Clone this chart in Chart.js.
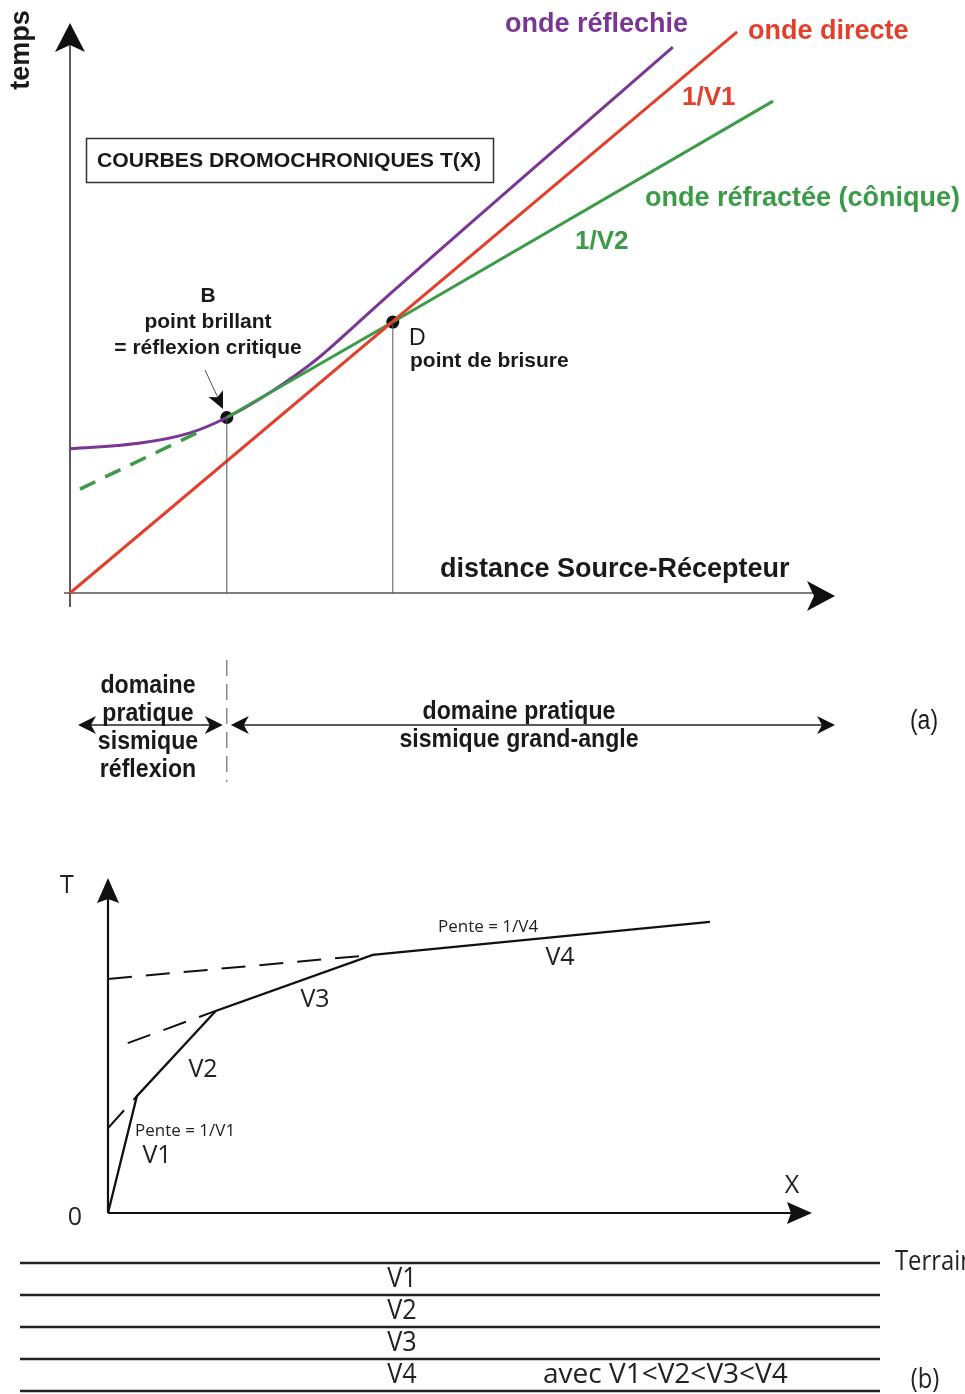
<!DOCTYPE html>
<html>
<head>
<meta charset="utf-8">
<script src="https://cdn.jsdelivr.net/npm/chart.js@4.4.1/dist/chart.umd.min.js"></script>
<style>
  body { margin: 0; background: #fff; }
  .wrap { position: relative; width: 965px; height: 1394px; overflow: hidden; }
  canvas { position: absolute; left: 0; }
</style>
</head>
<body>
<div class="wrap">
  <canvas id="chartA" width="965" height="800" style="top:0"></canvas>
  <canvas id="chartB" width="965" height="440" style="top:800px"></canvas>
  <canvas id="chartC" width="965" height="154" style="top:1240px"></canvas>
</div>
<script>
// (a) courbes dromochroniques - distance / temps (unités arbitraires)
const directX = [0, 8.72];
const directT = [0, 9.88];
const refractX = [2.05, 4.22, 9.19];
const refractT = [3.09, 4.77, 8.66];
const refractExtX = [0.13, 1.74];
const refractExtT = [1.83, 2.87];
const reflectX = [0, 0.92, 1.57, 2.05, 2.65, 3.23, 3.75, 4.22, 7.88];
const reflectT = [2.54, 2.64, 2.82, 3.09, 3.56, 4.12, 4.74, 5.31, 9.61];
const markX = [2.05, 4.22];   // B, D
const markT = [3.09, 4.77];

// (b) dromochronique multicouche
const travelX = [0, 0.41, 1.53, 3.76, 8.55];
const travelT = [0, 3.51, 6.07, 7.75, 8.74];
const ext2X = [0, 0.41], ext2T = [2.55, 3.51];
const ext3X = [0.28, 1.53], ext3T = [5.10, 6.07];
const ext4X = [0, 3.76], ext4T = [7.03, 7.75];

// coupe des terrains
const layerDepth = [0, 1, 2, 3, 4];
const layerNames = ['V1', 'V2', 'V3', 'V4'];

const PURPLE = '#7b3594', RED = '#e2402c', GREEN = '#3c9b48';
const BOLD = 'bold {s}px "Liberation Sans", Arial, sans-serif';
const REG = '{s}px "Liberation Sans", Arial, sans-serif';
const MYRIAD = '{s}px "Open Sans", "DejaVu Sans", sans-serif';

function pts(xs, ys) { return xs.map((x, i) => ({ x: x, y: ys[i] })); }
function f(tpl, s) { return tpl.replace('{s}', s); }

function head(ctx, x, y, ang, len, half, notch) {
  ctx.save();
  ctx.translate(x, y);
  ctx.rotate(ang);
  ctx.beginPath();
  ctx.moveTo(0, 0);
  ctx.lineTo(-len, -half);
  ctx.lineTo(-len + notch, 0);
  ctx.lineTo(-len, half);
  ctx.closePath();
  ctx.fill();
  ctx.restore();
}

// text, optionally squeezed horizontally (sx) to mimic a condensed face
function txt(ctx, s, x, y, font, color, align, sx) {
  ctx.save();
  ctx.translate(x, y);
  ctx.scale(sx || 1, 1);
  ctx.font = font;
  ctx.fillStyle = color || '#1a1a1a';
  ctx.textAlign = align || 'left';
  ctx.textBaseline = 'middle';
  ctx.fillText(s, 0, 0);
  ctx.restore();
}

function line(ctx, x1, y1, x2, y2, w, color, dash) {
  ctx.save();
  ctx.strokeStyle = color;
  ctx.lineWidth = w;
  ctx.setLineDash(dash || []);
  ctx.beginPath();
  ctx.moveTo(x1, y1);
  ctx.lineTo(x2, y2);
  ctx.stroke();
  ctx.restore();
}

function lineSet(data, color, width, extra) {
  return Object.assign({
    data: data, borderColor: color, borderWidth: width,
    pointRadius: 0, showLine: true, fill: false, tension: 0
  }, extra || {});
}

const baseOpts = (pad, xmax, ymin, ymax, rev) => ({
  responsive: false,
  animation: false,
  clip: false,
  layout: { padding: pad },
  plugins: { legend: { display: false }, tooltip: { enabled: false } },
  scales: {
    x: { type: 'linear', min: 0, max: xmax, display: false },
    y: { type: 'linear', min: ymin, max: ymax, reverse: !!rev, display: false }
  }
});

// ---------- chart (a) ----------
const decoA = {
  id: 'decoA',
  beforeDatasetsDraw(chart) {
    const ctx = chart.ctx, a = chart.chartArea;
    const x0 = chart.scales.x.getPixelForValue(0), y0 = chart.scales.y.getPixelForValue(0);
    ctx.fillStyle = '#111';
    line(ctx, x0, y0 + 14, x0, a.top + 12, 1.6, '#333');
    head(ctx, x0, a.top - 2, -Math.PI / 2, 29, 15, 7);
    line(ctx, x0 - 6, y0, a.right - 14, y0, 1.6, '#555');
    head(ctx, a.right, y0 + 3, 0, 28, 15, 7);
  },
  afterDraw(chart) {
    const ctx = chart.ctx;
    const bx = chart.scales.x.getPixelForValue(markX[0]);

    ctx.save();
    ctx.translate(22, 50);
    ctx.rotate(-Math.PI / 2);
    txt(ctx, 'temps', 0, 0, f(BOLD, 27), '#1a1a1a', 'center');
    ctx.restore();

    ctx.strokeStyle = '#333';
    ctx.lineWidth = 1.5;
    ctx.strokeRect(86.5, 138.5, 407, 44);
    txt(ctx, 'COURBES DROMOCHRONIQUES T(X)', 97, 161, f(BOLD, 21), '#1a1a1a', 'left', 1.01);

    txt(ctx, 'onde réflechie', 505, 25, f(BOLD, 27), PURPLE);
    txt(ctx, 'onde directe', 748, 32, f(BOLD, 27), RED);
    txt(ctx, '1/V1', 682, 98, f(BOLD, 26), RED);
    txt(ctx, 'onde réfractée (cônique)', 645, 199, f(BOLD, 27), GREEN);
    txt(ctx, '1/V2', 575, 242, f(BOLD, 26), GREEN);

    txt(ctx, 'B', 208, 296, f(BOLD, 21), '#1a1a1a', 'center');
    txt(ctx, 'point brillant', 208, 322, f(BOLD, 21), '#1a1a1a', 'center');
    txt(ctx, '= réflexion critique', 208, 348, f(BOLD, 21), '#1a1a1a', 'center');
    line(ctx, 205, 370, 219, 400, 1, '#555');
    ctx.fillStyle = '#111';
    head(ctx, 223, 409, Math.atan2(38, 18), 17, 8, 4);

    txt(ctx, 'D', 409, 339, f(REG, 23));
    txt(ctx, 'point de brisure', 410, 361, f(BOLD, 21));
    txt(ctx, 'distance Source-Récepteur', 440, 570, f(BOLD, 27));

    // domaines
    line(ctx, bx, 660, bx, 782, 1, '#555', [16, 8]);
    const ay = 725;
    line(ctx, 84, ay, bx - 8, ay, 1.3, '#222');
    line(ctx, bx + 8, ay, 830, ay, 1.3, '#222');
    ctx.fillStyle = '#111';
    head(ctx, 78, ay, Math.PI, 18, 9, 5);
    head(ctx, bx - 4, ay, 0, 18, 9, 5);
    head(ctx, bx + 4, ay, Math.PI, 18, 9, 5);
    head(ctx, 835, ay, 0, 18, 9, 5);

    const nb = f(BOLD, 26);
    ['domaine', 'pratique', 'sismique', 'réflexion'].forEach((s, i) => {
      txt(ctx, s, 148, 686 + i * 28, nb, '#1a1a1a', 'center', 0.89);
    });
    txt(ctx, 'domaine pratique', 519, 712, nb, '#1a1a1a', 'center', 0.89);
    txt(ctx, 'sismique grand-angle', 519, 740, nb, '#1a1a1a', 'center', 0.89);
    txt(ctx, '(a)', 924, 722, f(REG, 27), '#1a1a1a', 'center', 0.85);
  }
};

new Chart(document.getElementById('chartA'), {
  type: 'scatter',
  data: {
    datasets: [
      lineSet([{ x: markX[0], y: 0 }, { x: markX[0], y: markT[0] }], '#555', 1),
      lineSet([{ x: markX[1], y: 0 }, { x: markX[1], y: markT[1] }], '#555', 1),
      lineSet(pts(refractExtX, refractExtT), GREEN, 3.5, { borderDash: [17, 11] }),
      lineSet(pts(directX, directT), RED, 3),
      lineSet(pts(refractX, refractT), GREEN, 3),
      lineSet(pts(reflectX, reflectT), PURPLE, 3, { cubicInterpolationMode: 'monotone' }),
      { data: pts(markX, markT), pointRadius: 6.5, pointBackgroundColor: '#111', pointBorderWidth: 0, showLine: false }
    ]
  },
  options: baseOpts({ left: 70, right: 130, top: 25, bottom: 207 }, 10, 0, 10),
  plugins: [decoA]
});

// ---------- chart (b) ----------
const decoB = {
  id: 'decoB',
  beforeDatasetsDraw(chart) {
    const ctx = chart.ctx, a = chart.chartArea;
    const x0 = chart.scales.x.getPixelForValue(0), y0 = chart.scales.y.getPixelForValue(0);
    ctx.fillStyle = '#111';
    line(ctx, x0, y0, x0, a.top + 10, 2.2, '#111');
    head(ctx, x0, a.top - 2, -Math.PI / 2, 25, 11, 4);
    line(ctx, x0, y0, a.right - 10, y0, 2.2, '#111');
    head(ctx, a.right, y0, 0, 25, 11, 4);
  },
  afterDraw(chart) {
    const ctx = chart.ctx;
    const m = f(MYRIAD, 25), s = f(MYRIAD, 17);
    txt(ctx, 'T', 67, 86, m, '#222', 'center');
    txt(ctx, '0', 75, 418, m, '#222', 'center');
    txt(ctx, 'X', 792, 386, m, '#222', 'center');
    txt(ctx, 'Pente = 1/V4', 438, 127, s, '#222');
    txt(ctx, 'V4', 560, 158, m, '#222', 'center');
    txt(ctx, 'V3', 315, 200, m, '#222', 'center');
    txt(ctx, 'V2', 203, 270, m, '#222', 'center');
    txt(ctx, 'Pente = 1/V1', 135, 331, s, '#222');
    txt(ctx, 'V1', 157, 356, m, '#222', 'center');
  }
};

new Chart(document.getElementById('chartB'), {
  type: 'scatter',
  data: {
    datasets: [
      lineSet(pts(ext2X, ext2T), '#111', 2, { borderDash: [24, 14] }),
      lineSet(pts(ext3X, ext3T), '#111', 2, { borderDash: [24, 14] }),
      lineSet(pts(ext4X, ext4T), '#111', 2, { borderDash: [24, 14] }),
      lineSet(pts(travelX, travelT), '#111', 2.3)
    ]
  },
  options: baseOpts({ left: 108, right: 153, top: 80, bottom: 27 }, 10, 0, 10),
  plugins: [decoB]
});

// ---------- coupe des terrains ----------
const decoC = {
  id: 'decoC',
  afterDraw(chart) {
    const ctx = chart.ctx, ys = chart.scales.y;
    const m = f(MYRIAD, 28);
    txt(ctx, 'Terrain', 895, ys.getPixelForValue(layerDepth[0]) - 1, m, '#222', 'left', 0.85);
    layerNames.forEach((n, i) => {
      txt(ctx, n, 402, ys.getPixelForValue(layerDepth[i] + 0.5), m, '#222', 'center', 0.9);
    });
    txt(ctx, 'avec V1<V2<V3<V4', 543, ys.getPixelForValue(3.5), f(MYRIAD, 28), '#222');
    txt(ctx, '(b)', 925, 140, m, '#222', 'center', 0.85);
  }
};

new Chart(document.getElementById('chartC'), {
  type: 'scatter',
  data: {
    datasets: layerDepth.map(d => lineSet([{ x: 0, y: d }, { x: 1, y: d }], '#222', 2.5))
  },
  options: baseOpts({ left: 20, right: 85, top: 23, bottom: 3 }, 1, 0, 4, true),
  plugins: [decoC]
});
</script>
</body>
</html>
